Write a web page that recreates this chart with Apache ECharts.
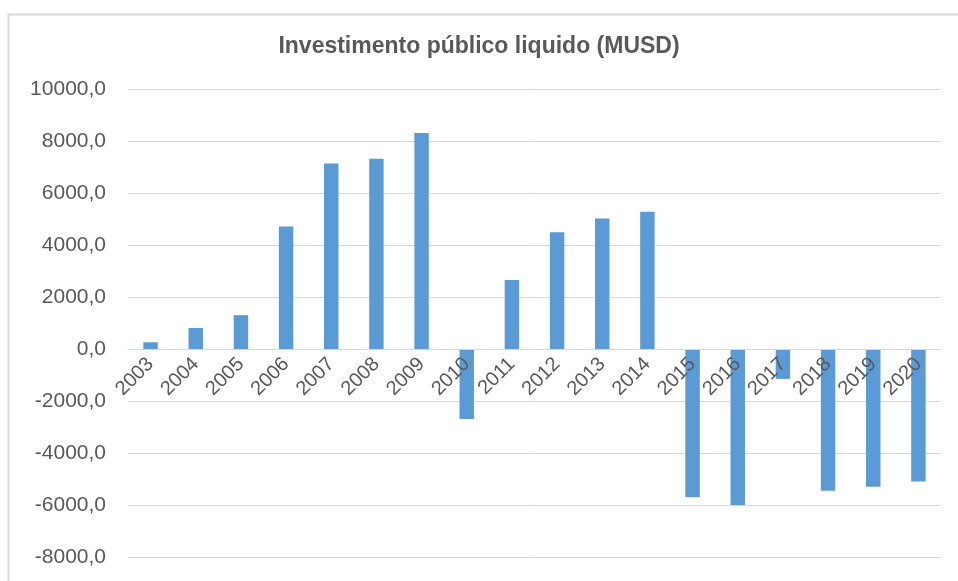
<!DOCTYPE html>
<html>
<head>
<meta charset="utf-8">
<script src="https://cdn.jsdelivr.net/npm/echarts@6/dist/echarts.min.js"></script>
<style>
    html, body { margin: 0; padding: 0; background: #fff; }
    #grafico { width: 958px; height: 581px; }
</style>
</head>
<body>
<div id="grafico"></div>
<script>
var anos = ['2003', '2004', '2005', '2006', '2007', '2008', '2009', '2010', '2011',
    '2012', '2013', '2014', '2015', '2016', '2017', '2018', '2019', '2020'];
var investimento = [260, 810, 1300, 4710, 7130, 7320, 8310, -2690, 2650,
    4490, 5020, 5280, -5700, -6000, -1150, -5450, -5300, -5100];
var eixoMin = -8000;
var eixoMax = 10000;
var eixoPasso = 2000;

var myChart = echarts.init(document.getElementById('grafico'));
var option = {
    backgroundColor: '#ffffff',
    animation: false,
    title: {
        text: 'Investimento público liquido (MUSD)',
        left: 'center',
        top: 30,
        textStyle: {
            color: '#595959',
            fontSize: 23,
            fontWeight: 'bold',
            fontFamily: 'Liberation Sans, sans-serif'
        }
    },
    graphic: [{
        type: 'rect',
        shape: { x: 8.5, y: 14.5, width: 960, height: 580 },
        style: { fill: 'none', stroke: '#d9d9d9', lineWidth: 2 },
        silent: true
    }],
    grid: {
        left: 128,
        right: 17,
        top: 89,
        bottom: 24,
        outerBoundsMode: 'none'
    },
    xAxis: {
        type: 'category',
        data: anos,
        z: 5,
        // o eixo fica no zero: desloca-se a linha e os rótulos para cima
        offset: -208,
        axisLine: { onZero: false, lineStyle: { color: '#d9d9d9', width: 1 } },
        axisTick: { show: false },
        axisLabel: {
            rotate: 45,
            margin: 12,
            interval: 0,
            color: '#595959',
            fontSize: 20,
            fontFamily: 'Liberation Sans, sans-serif'
        }
    },
    yAxis: {
        type: 'value',
        min: eixoMin,
        max: eixoMax,
        interval: eixoPasso,
        axisLine: { show: false },
        axisTick: { show: false },
        splitLine: { lineStyle: { color: '#d9d9d9', width: 1 } },
        axisLabel: {
            margin: 22,
            color: '#595959',
            fontSize: 21,
            fontFamily: 'Liberation Sans, sans-serif',
            formatter: function (v) {
                return v.toFixed(1).replace('.', ',');
            }
        }
    },
    series: [{
        name: 'Investimento',
        type: 'bar',
        barWidth: '32%',
        data: investimento,
        itemStyle: { color: '#5b9bd5' }
    }]
};
myChart.setOption(option);
</script>
</body>
</html>
